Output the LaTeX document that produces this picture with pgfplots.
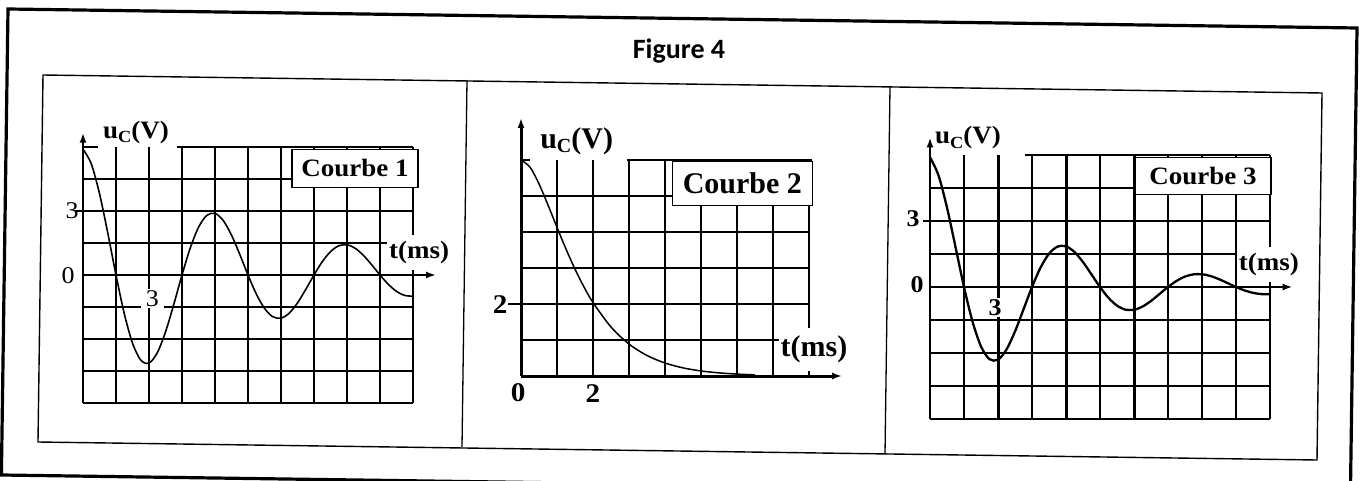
\documentclass[border=0pt]{standalone}
\usepackage{fontspec}
\setmainfont{Liberation Serif}
\newfontfamily\serifA[FakeStretch=1.08]{Liberation Serif}
\newfontfamily\figfont{Carlito}
\usepackage{pgfplots}
\pgfplotsset{compat=1.18}
\usetikzlibrary{arrows.meta}

% u_C(V) with a lowered, smaller C
\newcommand{\uc}[1]{u\raisebox{-0.35ex}{\fontsize{#1}{#1}\selectfont C}(V)}

\pgfplotsset{
  panel/.style={
    scale only axis, clip=false,
    axis line style={draw=none}, tick style={draw=none},
    major tick length=0pt,
    xticklabels={}, yticklabels={},
    grid=major,
    major grid style={black, line width=2pt},
  },
  thickgrid/.style={
    extra x ticks={3,6,9},
    extra x tick labels={},
    extra x tick style={grid=major, major grid style={black, line width=#1}},
  },
}
\tikzset{
  axarrow/.style={line width=#1, -{Latex[length=10pt,width=7pt]}},
  gridseg/.style={black, line width=2pt},
}

\begin{document}
\begin{tikzpicture}
\useasboundingbox (0,0) rectangle (1365pt,480pt);
\fill[white] (0,0) rectangle (1365pt,480pt);

% frames
\draw[line width=3.2pt, line join=miter] (8pt,471pt) -- (1357pt,452pt) -- (1350.4pt,-14pt) -- (1.4pt,5pt) -- cycle;
\draw[line width=1.4pt, line join=miter] (43pt,405pt) -- (1322pt,387pt) -- (1317pt,20pt) -- (38pt,38pt) -- cycle;
\draw[line width=1.3pt] (467pt,400pt) -- (462pt,33pt);
\draw[line width=1.3pt] (890pt,393pt) -- (885pt,26pt);

\node[font=\figfont\bfseries\fontsize{28}{28}\selectfont] at (679pt,429pt) {Figure 4};

% ---------- Courbe 1 : 10 x 8 squares, 1.5 ms and 1.5 V each ----------
\begin{axis}[panel, thickgrid=2.6pt,
  at={(83pt,77pt)}, anchor=south west, width=330pt, height=256pt,
  xmin=0, xmax=15, ymin=-6, ymax=6,
  xtick={0,1.5,3,4.5,6,7.5,9,10.5,12,13.5,15},
  ytick={-6,-4.5,-3,-1.5,0,1.5,3,4.5}]
\draw[gridseg] (axis cs:0,6) -- (axis cs:0.7,6);
\draw[gridseg] (axis cs:4.29,6) -- (axis cs:15,6);
\draw[gridseg] (axis cs:-0.35,3) -- (axis cs:0,3);
\node[font=\serifA\fontsize{24}{24}\selectfont] at (axis cs:-0.5,3) {3};
\node[font=\serifA\fontsize{24}{24}\selectfont] at (axis cs:-0.68,-0.05) {0};
\node[fill=white, inner xsep=5pt, inner ysep=1.5pt, font=\serifA\fontsize{24}{24}\selectfont] at (axis cs:3.15,-1.1) {3};
\node[anchor=base west, inner sep=0pt, font=\serifA\bfseries\fontsize{25}{25}\selectfont] at (axis cs:0.91,6.39) {\uc{17}};
\node[draw, line width=1.5pt, fill=white, minimum width=126pt, minimum height=38pt, inner sep=0pt,
  font=\serifA\bfseries\fontsize{25}{25}\selectfont] at (axis cs:12.36,5.0) {Courbe 1};
\node[fill=white, inner xsep=2pt, inner ysep=6pt, font=\serifA\bfseries\fontsize{25}{25}\selectfont] at (axis cs:15.28,1.06) {t(ms)};
\addplot[black, line width=1.6pt, smooth] coordinates {
(0,5.9) (0.375,5.213) (0.75,3.816) (1.125,1.975) (1.5,0) (1.875,-1.807) (2.25,-3.193) (2.625,-3.989)
(3,-4.130) (3.375,-3.649) (3.75,-2.671) (4.125,-1.383) (4.5,0) (4.875,1.265) (5.25,2.235) (5.625,2.793)
(6,2.891) (6.375,2.554) (6.75,1.870) (7.125,0.968) (7.5,0) (7.875,-0.885) (8.25,-1.564) (8.625,-1.955)
(9,-2.024) (9.375,-1.788) (9.75,-1.309) (10.125,-0.677) (10.5,0) (10.875,0.620) (11.25,1.095) (11.625,1.368)
(12,1.417) (12.375,1.252) (12.75,0.916) (13.125,0.474) (13.5,0) (13.875,-0.434) (14.25,-0.767) (14.625,-0.958)
(15,-0.992)};
\draw[axarrow=2pt] (axis cs:0,0) -- (axis cs:16.05,0);
\draw[axarrow=2pt] (axis cs:0,-6) -- (axis cs:0,6.67);
\end{axis}

% ---------- Courbe 2 : 8 x 6 squares, 1 ms and 1 V each ----------
\begin{axis}[panel,
  at={(521pt,104pt)}, anchor=south west, width=288pt, height=216pt,
  xmin=0, xmax=8, ymin=0, ymax=6,
  xtick={1,2,3,4,5,6,7,8},
  ytick={1,2,3,4,5}]
\draw[gridseg] (axis cs:0,6) -- (axis cs:0.25,6);
\draw[gridseg] (axis cs:2.94,6) -- (axis cs:8.08,6);
\draw[gridseg] (axis cs:-0.36,2) -- (axis cs:0,2);
\node[font=\serifA\bfseries\fontsize{27}{27}\selectfont] at (axis cs:-0.58,1.99) {2};
\node[font=\serifA\bfseries\fontsize{27}{27}\selectfont] at (axis cs:-0.08,-0.45) {0};
\node[font=\serifA\bfseries\fontsize{27}{27}\selectfont] at (axis cs:2.0,-0.48) {2};
\node[anchor=base west, inner sep=0pt, font=\bfseries\fontsize{30}{30}\selectfont] at (axis cs:0.53,6.33) {\uc{20}};
\node[draw, line width=1.5pt, fill=white, minimum width=140pt, minimum height=44pt, inner sep=0pt,
  font=\bfseries\fontsize{30}{30}\selectfont] at (axis cs:6.15,5.35) {Courbe 2};
\node[fill=white, inner xsep=2pt, inner ysep=8pt, font=\bfseries\fontsize{30}{30}\selectfont] at (axis cs:8.14,0.73) {t(ms)};
\addplot[black, line width=1.5pt, smooth] coordinates {
(0,6) (0.25,5.801) (0.5,5.337) (0.75,4.750) (1,4.128) (1.25,3.526) (1.5,2.969) (1.75,2.473)
(2,2.041) (2.5,1.361) (3,0.888) (3.5,0.570) (4,0.361) (4.5,0.226) (5,0.140) (5.5,0.087)
(6,0.053) (6.5,0.032)};
\draw[axarrow=3pt] (axis cs:0,0) -- (axis cs:8.92,0);
\draw[axarrow=3pt] (axis cs:0,0) -- (axis cs:0,7.17);
\end{axis}

% ---------- Courbe 3 : 10 x 8 squares, 1.5 ms and 1.5 V each ----------
\begin{axis}[panel, thickgrid=3pt,
  at={(930pt,61pt)}, anchor=south west, width=340pt, height=264pt,
  xmin=0, xmax=15, ymin=-6, ymax=6,
  xtick={0,1.5,3,4.5,6,7.5,9,10.5,12,13.5,15},
  ytick={-6,-4.5,-3,-1.5,0,1.5,3,4.5}]
\draw[gridseg] (axis cs:4.19,6) -- (axis cs:15,6);
\draw[gridseg] (axis cs:-0.3,3) -- (axis cs:0,3);
\node[font=\serifA\bfseries\fontsize{24}{24}\selectfont] at (axis cs:-0.75,3.09) {3};
\node[font=\serifA\bfseries\fontsize{24}{24}\selectfont] at (axis cs:-0.57,0.09) {0};
\node[fill=white, inner xsep=4pt, inner ysep=1.5pt, font=\serifA\bfseries\fontsize{24}{24}\selectfont] at (axis cs:2.87,-0.92) {3};
\node[anchor=base west, inner sep=0pt, font=\serifA\bfseries\fontsize{25}{25}\selectfont] at (axis cs:0.22,6.5) {\uc{17}};
\node[draw, line width=1.5pt, fill=white, minimum width=136pt, minimum height=37pt, inner sep=0pt,
  font=\serifA\bfseries\fontsize{25}{25}\selectfont] at (axis cs:12.04,5.05) {Courbe 3};
\node[fill=white, inner xsep=2pt, inner ysep=6pt, font=\serifA\bfseries\fontsize{25}{25}\selectfont] at (axis cs:14.95,1.02) {t(ms)};
\addplot[black, line width=2.3pt, smooth] coordinates {
(0,5.9) (0.375,5.070) (0.75,3.609) (1.125,1.817) (1.5,0) (1.875,-1.571) (2.25,-2.701) (2.625,-3.282)
(3,-3.304) (3.375,-2.839) (3.75,-2.021) (4.125,-1.017) (4.5,0) (4.875,0.880) (5.25,1.512) (5.625,1.838)
(6,1.850) (6.375,1.590) (6.75,1.132) (7.125,0.570) (7.5,0) (7.875,-0.493) (8.25,-0.847) (8.625,-1.029)
(9,-1.036) (9.375,-0.890) (9.75,-0.634) (10.125,-0.319) (10.5,0) (10.875,0.276) (11.25,0.474) (11.625,0.576)
(12,0.580) (12.375,0.499) (12.75,0.355) (13.125,0.179) (13.5,0) (13.875,-0.155) (14.25,-0.266) (14.625,-0.323)
(15,-0.325)};
\draw[axarrow=2pt] (axis cs:0,0) -- (axis cs:16.0,0);
\draw[axarrow=2pt] (axis cs:0,-6) -- (axis cs:0,6.8);
\end{axis}
\end{tikzpicture}
\end{document}
